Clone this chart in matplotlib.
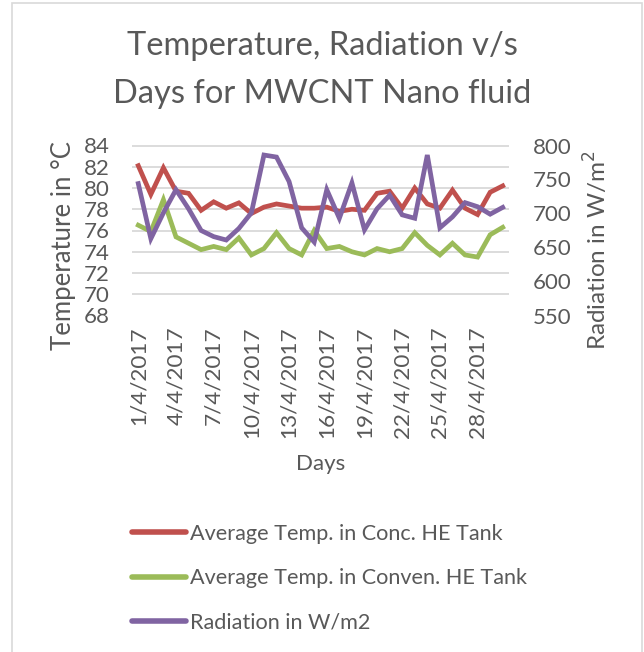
import matplotlib
matplotlib.use("Agg")
import matplotlib.pyplot as plt
from matplotlib.lines import Line2D
from matplotlib.patches import Rectangle

plt.rcParams['font.family'] = ['Lato', 'DejaVu Sans']

days = [f"{d}/4/2017" for d in range(1, 31)]
conc_temp = [82.1, 79.4, 81.9, 79.7, 79.5, 77.9, 78.7, 78.1, 78.6, 77.6,
             78.2, 78.5, 78.3, 78.1, 78.1, 78.2, 77.8, 78.0, 77.9, 79.5,
             79.7, 78.1, 80.0, 78.5, 78.1, 79.8, 78.1, 77.5, 79.6, 80.2]
conv_temp = [76.5, 75.9, 78.9, 75.4, 74.8, 74.2, 74.5, 74.2, 75.3, 73.7,
             74.3, 75.8, 74.3, 73.7, 76.0, 74.3, 74.5, 74.0, 73.7, 74.3,
             74.0, 74.3, 75.8, 74.6, 73.7, 74.8, 73.7, 73.5, 75.6, 76.3]
radiation = [744, 663, 701, 735, 707, 675, 666, 661, 678, 701,
             786, 783, 747, 679, 658, 735, 693, 745, 676, 707,
             727, 698, 693, 786, 679, 695, 716, 710, 699, 709]
tick_every = 3
left_ticks = list(range(68, 85, 2))
right_ticks = list(range(550, 801, 50))

labels = ["Average Temp. in Conc. HE Tank",
          "Average Temp. in Conven. HE Tank",
          "Radiation in W/m2"]
colors = ["#C0504D", "#9BBB59", "#8064A2"]
txt = "#595959"
grid = "#D9D9D9"
lw = 3.4

W, H = 644, 652
fig = plt.figure(figsize=(W / 100, H / 100), dpi=100)

def fx(px):
    return px / W

def fy(py):
    return 1 - py / H

ax = fig.add_axes([fx(132), fy(315.5), fx(509 - 132), (315.5 - 145.5) / H])
ax2 = ax.twinx()

x = list(range(len(days)))
ax.plot(x, conc_temp, color=colors[0], lw=lw, solid_joinstyle='miter', zorder=3)
ax.plot(x, conv_temp, color=colors[1], lw=lw, solid_joinstyle='miter', zorder=3)
ax2.plot(x, radiation, color=colors[2], lw=lw, solid_joinstyle='miter', zorder=4)

ax.set_xlim(-0.5, len(days) - 0.5)
ax.set_ylim(68, 84)
ax2.set_ylim(550, 800)
ax.set_yticks(left_ticks)
ax2.set_yticks(right_ticks)
ax.set_xticks(x[::tick_every])
ax.set_xticklabels(days[::tick_every], rotation=90)

ax.grid(axis='y', color=grid, lw=1.3)
ax.set_axisbelow(True)
for a in (ax, ax2):
    for s in a.spines.values():
        s.set_visible(False)
    a.tick_params(length=0, colors=txt)
ax.tick_params(axis='y', labelsize=16, pad=16)
ax2.tick_params(axis='y', labelsize=16, pad=17)
ax.tick_params(axis='x', labelsize=16.2, pad=8)

ax.set_ylabel("Temperature in °C", fontsize=18.5, color=txt)
ax.yaxis.set_label_coords((76 - 132) / 377, (315.5 - 246) / 170)
ax2.set_ylabel("Radiation in W/m$^2$", fontsize=17.5, color=txt)
ax2.yaxis.set_label_coords((582 - 132) / 377, (315.5 - 250) / 170)
ax.set_xlabel("Days", fontsize=16, color=txt, labelpad=11)

fig.text(0.5, fy(46), "Temperature, Radiation v/s", ha='center', va='center',
         fontsize=23.5, color=txt)
fig.text(0.5, fy(94), "Days for MWCNT Nano fluid", ha='center', va='center',
         fontsize=23.5, color=txt)

handles = [Line2D([0], [0], color=c, lw=lw + 0.6, solid_capstyle='round') for c in colors]
fig.legend(handles, labels, loc='upper left', bbox_to_anchor=(fx(132), fy(524)),
           frameon=False, fontsize=15.6, labelcolor=txt, handlelength=2.5,
           handletextpad=0.2, labelspacing=1.12, borderpad=0, borderaxespad=0)

fig.patches.append(Rectangle((fx(12), fy(660)), fx(642 - 12), (660 - 2.5) / H,
                             transform=fig.transFigure, fill=False,
                             edgecolor="#D9D9D9", lw=1.2))

fig.savefig("out.png", dpi=100)
